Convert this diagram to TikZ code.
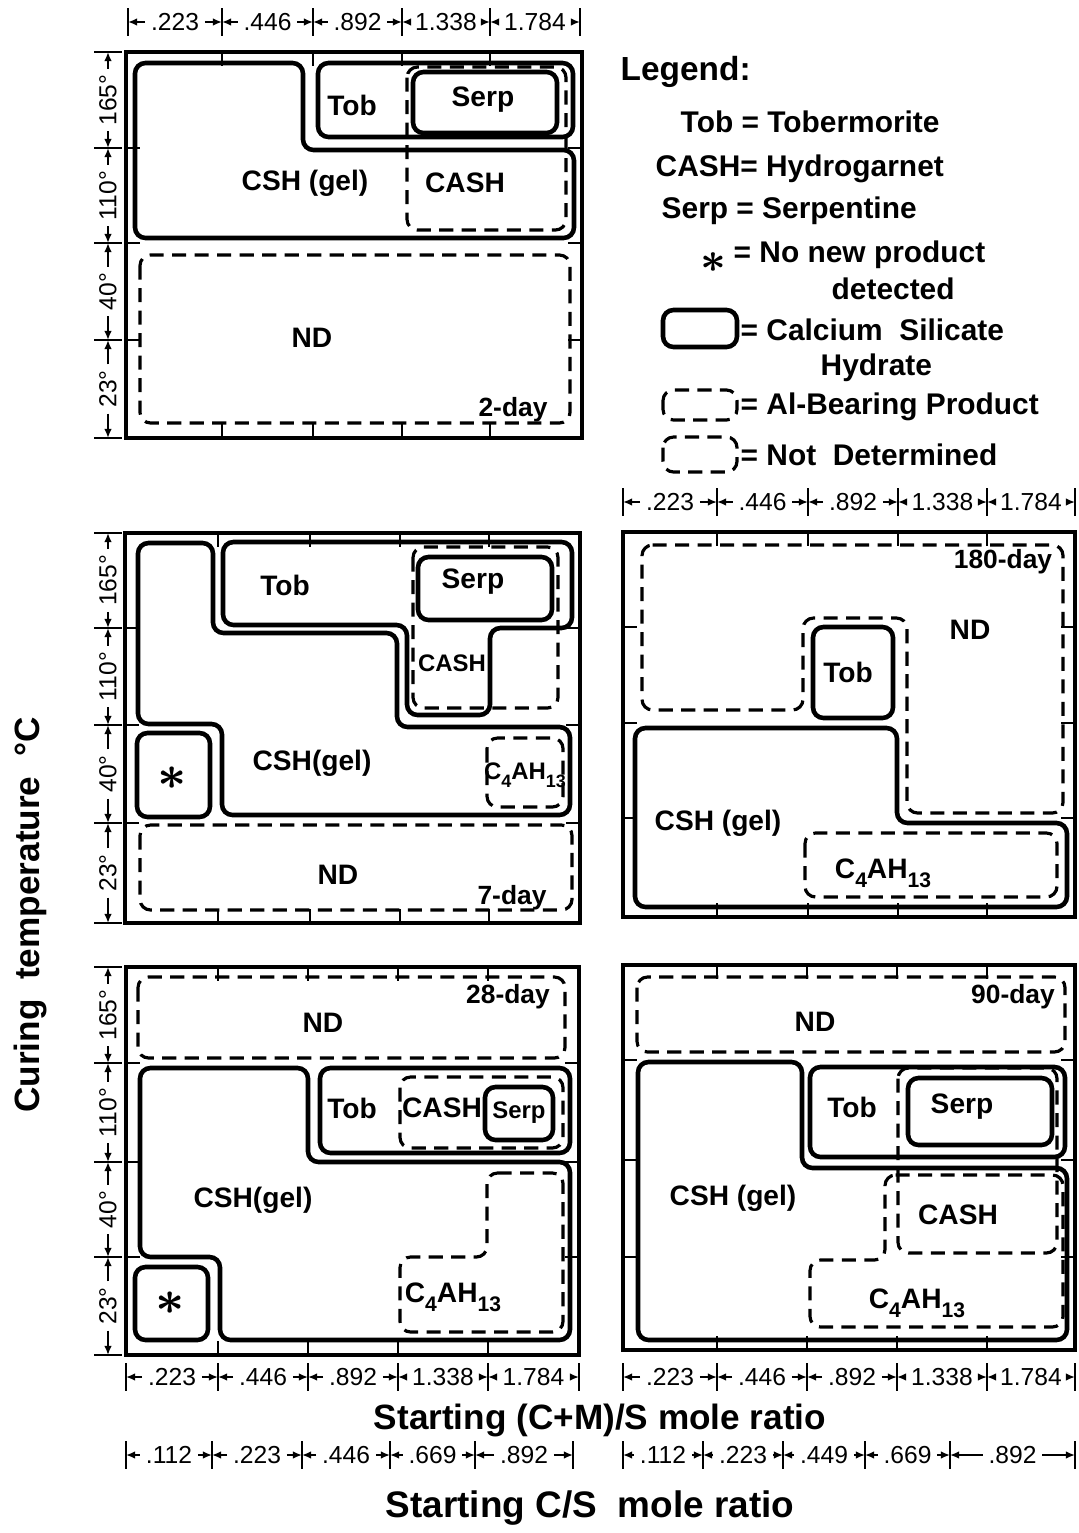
\documentclass[tikz,border=0pt]{standalone}
\usepackage{fontspec}
\setmainfont{Liberation Sans}
\usepackage{graphicx}
\usetikzlibrary{arrows.meta}

\newcommand{\labfont}{\fontsize{8}{9}\selectfont\bfseries}
\newcommand{\smlfont}{\fontsize{6.8}{8}\selectfont\bfseries}
\newcommand{\dimfont}{\fontsize{7}{8}\selectfont}
\newcommand{\legfont}{\fontsize{8.5}{10}\selectfont\bfseries}
\newcommand{\axfont}{\fontsize{10}{12}\selectfont\bfseries}
\newcommand{\lowr}[1]{\raisebox{-0.6ex}{\scalebox{0.75}{#1}}}
\newcommand{\starsym}{\raisebox{-0.45ex}{\scalebox{1.7}{\boldmath$\ast$}}}

% dimension segment along x: name, from, to, y, text
\newcommand{\hdim}[5]{%
  \coordinate (#1L) at (#2,#4);
  \coordinate (#1R) at (#3,#4);
  \node[dimlbl] (#1) at ({(#2+#3)/2},#4) {#5};
  \draw[dimarr] (#1) -- (#1L);
  \draw[dimarr] (#1) -- (#1R);
  \draw[tk] (#2,#4-14) -- (#2,#4+14);
  \draw[tk] (#3,#4-14) -- (#3,#4+14);
}
% dimension segment along y: name, from, to, x, text
\newcommand{\vdim}[5]{%
  \coordinate (#1T) at (#4,#2);
  \coordinate (#1B) at (#4,#3);
  \node[dimlbl, rotate=90] (#1) at (#4,{(#2+#3)/2}) {#5};
  \draw[dimarr] (#1) -- (#1T);
  \draw[dimarr] (#1) -- (#1B);
  \draw[tk] (#4-14,#2) -- (#4+14,#2);
  \draw[tk] (#4-14,#3) -- (#4+14,#3);
}
% frame of one panel with its grid ticks
\newcommand{\panelbox}[6]{%
  \draw[panel] (#1,#2) rectangle (#3,#4);
  \foreach \cx in {#5} {
    \draw[tk] (\cx,#2) -- (\cx,#2+14);
    \draw[tk] (\cx,#4) -- (\cx,#4-14);
  }
  \foreach \ry in {#6} {
    \draw[tk] (#1,\ry) -- (#1+14,\ry);
    \draw[tk] (#3,\ry) -- (#3-14,\ry);
  }
}

\begin{document}
\begin{tikzpicture}[x=0.01cm, y=-0.01cm,
    panel/.style={draw, line width=1.1pt},
    csh/.style={draw, line width=1.3pt, rounded corners=3pt},
    alb/.style={draw, line width=0.9pt, dash pattern=on 4pt off 2.4pt, rounded corners=3pt},
    tk/.style={line width=0.6pt},
    lab/.style={font=\labfont, inner sep=1pt},
    sml/.style={font=\smlfont, inner sep=0pt},
    day/.style={font=\fontsize{7.5}{9}\selectfont\bfseries, inner sep=1pt},
    dimlbl/.style={font=\dimfont, inner sep=1.5pt},
    dimarr/.style={-{Latex[length=2.6pt,width=2.2pt]}, line width=0.55pt},
    leg/.style={font=\legfont, anchor=west, inner sep=0pt}
  ]
  \useasboundingbox (0,0) rectangle (1078,1533);

  % ---- 2-day
  \panelbox{126}{52}{582}{438}{222,313,402,490}{148,243,340}
  \draw[csh] (135,63) -- (303,63) -- (303,150) -- (574,150) -- (574,238) -- (135,238) -- cycle;
  \draw[csh] (318,63) rectangle (573,137);
  \draw[alb] (407,67) rectangle (566,230);
  \draw[csh] (413,72) rectangle (557,133);
  \draw[alb] (140,255) rectangle (570,423);
  \node[lab] (aTob) at (352,105) {Tob};
  \node[lab] (aSerp) at (483,100) {Serp};
  \node[lab] (aCsh) at (305,183) {CSH (gel)};
  \node[lab] (aCash) at (465,183) {CASH};
  \node[lab] (aNd) at (312,338) {ND};
  \node[day] (aDay) at (513,410) {2-day};

  % ---- 7-day
  \panelbox{125}{533}{580}{923}{218,310,400,489}{628,725,823}
  \draw[csh] (138,543) -- (213,543) -- (213,633) -- (397,633) -- (397,727) -- (570,727)
    -- (570,815) -- (222,815) -- (222,724) -- (138,724) -- cycle;
  \draw[csh] (223,542) -- (572,542) -- (572,628) -- (490,628) -- (490,715) -- (407,715)
    -- (407,625) -- (223,625) -- cycle;
  \draw[alb] (413,547) rectangle (558,708);
  \draw[csh] (418,557) rectangle (552,620);
  \draw[alb] (487,738) rectangle (563,807);
  \draw[csh] (137,733) rectangle (210,817);
  \draw[alb] (140,825) rectangle (572,910);
  \node[lab] (bTob) at (285,585) {Tob};
  \node[lab] (bSerp) at (473,582) {Serp};
  \node[sml] (bCash) at (452,663) {CASH};
  \node[lab] (bCsh) at (312,763) {CSH(gel)};
  \node[sml] (bC4) at (525,775) {C\lowr{4}AH\lowr{13}};
  \node[lab] (bStar) at (172,778) {\starsym};
  \node[lab] (bNd) at (338,875) {ND};
  \node[day] (bDay) at (512,898) {7-day};

  % ---- 180-day
  \panelbox{623}{532}{1075}{917}{717,808,898,987}{627,723,818}
  \draw[alb] (642,545) -- (1063,545) -- (1063,813) -- (907,813) -- (907,618) -- (803,618)
    -- (803,710) -- (642,710) -- cycle;
  \draw[csh] (813,627) rectangle (893,718);
  \draw[csh] (635,728) -- (897,728) -- (897,823) -- (1067,823) -- (1067,907) -- (635,907) -- cycle;
  \draw[alb] (805,833) rectangle (1057,897);
  \node[day] (cDay) at (1003,562) {180-day};
  \node[lab] (cNd) at (970,630) {ND};
  \node[lab] (cTob) at (848,672) {Tob};
  \node[lab] (cCsh) at (718,823) {CSH (gel)};
  \node[lab] (cC4) at (883,873) {C\lowr{4}AH\lowr{13}};

  % ---- 28-day
  \panelbox{126}{967}{579}{1355}{218,308,398,488}{1063,1162,1257}
  \draw[alb] (138,977) rectangle (565,1058);
  \draw[csh] (140,1068) -- (308,1068) -- (308,1162) -- (570,1162) -- (570,1340) -- (220,1340)
    -- (220,1257) -- (140,1257) -- cycle;
  \draw[csh] (320,1068) rectangle (570,1153);
  \draw[alb] (400,1077) rectangle (563,1148);
  \draw[csh] (485,1087) rectangle (553,1140);
  \draw[alb] (487,1173) -- (563,1173) -- (563,1332) -- (400,1332) -- (400,1257) -- (487,1257) -- cycle;
  \draw[csh] (135,1267) rectangle (208,1340);
  \node[lab] (dNd) at (323,1023) {ND};
  \node[day] (dDay) at (508,997) {28-day};
  \node[lab] (dTob) at (352,1108) {Tob};
  \node[lab] (dCash) at (442,1108) {CASH};
  \node[sml] (dSerp) at (519,1113) {Serp};
  \node[lab] (dCsh) at (253,1200) {CSH(gel)};
  \node[lab] (dC4) at (453,1297) {C\lowr{4}AH\lowr{13}};
  \node[lab] (dStar) at (170,1303) {\starsym};

  % ---- 90-day
  \panelbox{623}{965}{1075}{1350}{717,807,897,987}{1060,1160,1257}
  \draw[alb] (637,977) rectangle (1065,1052);
  \draw[csh] (638,1062) -- (802,1062) -- (802,1168) -- (1067,1168) -- (1067,1340) -- (638,1340) -- cycle;
  \draw[csh] (810,1067) rectangle (1065,1157);
  \draw[alb] (898,1068) rectangle (1057,1253);
  \draw[csh] (908,1078) rectangle (1052,1145);
  \draw[alb] (885,1175) -- (1063,1175) -- (1063,1327) -- (810,1327) -- (810,1260) -- (885,1260) -- cycle;
  \node[lab] (eNd) at (815,1022) {ND};
  \node[day] (eDay) at (1013,997) {90-day};
  \node[lab] (eTob) at (852,1107) {Tob};
  \node[lab] (eSerp) at (962,1107) {Serp};
  \node[lab] (eCsh) at (733,1198) {CSH (gel)};
  \node[lab] (eCash) at (958,1215) {CASH};
  \node[lab] (eC4) at (917,1303) {C\lowr{4}AH\lowr{13}};

  % ---- ratio scales
  \hdim{ta}{128}{222}{22}{.223} \hdim{tb}{222}{313}{22}{.446} \hdim{tc}{313}{402}{22}{.892}
  \hdim{td}{402}{490}{22}{1.338} \hdim{te}{490}{580}{22}{1.784}
  \hdim{ua}{623}{717}{502}{.223} \hdim{ub}{717}{808}{502}{.446} \hdim{uc}{808}{898}{502}{.892}
  \hdim{ud}{898}{987}{502}{1.338} \hdim{ue}{987}{1075}{502}{1.784}
  \hdim{ba}{126}{218}{1377}{.223} \hdim{bb}{218}{308}{1377}{.446} \hdim{bc}{308}{398}{1377}{.892}
  \hdim{bd}{398}{488}{1377}{1.338} \hdim{be}{488}{579}{1377}{1.784}
  \hdim{ca}{623}{717}{1377}{.223} \hdim{cb}{717}{807}{1377}{.446} \hdim{cc}{807}{897}{1377}{.892}
  \hdim{cd}{897}{987}{1377}{1.338} \hdim{ce}{987}{1075}{1377}{1.784}
  \hdim{sa}{126}{212}{1455}{.112} \hdim{sb}{212}{302}{1455}{.223} \hdim{sc}{302}{390}{1455}{.446}
  \hdim{sd}{390}{475}{1455}{.669} \hdim{se}{475}{573}{1455}{.892}
  \hdim{ra}{623}{703}{1455}{.112} \hdim{rb}{703}{783}{1455}{.223} \hdim{rc}{783}{865}{1455}{.449}
  \hdim{rd}{865}{950}{1455}{.669} \hdim{re}{950}{1075}{1455}{.892}

  % ---- temperature scales
  \vdim{pa}{52}{148}{108}{165°} \vdim{pb}{148}{243}{108}{110°}
  \vdim{pc}{243}{340}{108}{40°} \vdim{pd}{340}{438}{108}{23°}
  \vdim{qa}{533}{628}{108}{165°} \vdim{qb}{628}{725}{108}{110°}
  \vdim{qc}{725}{823}{108}{40°} \vdim{qd}{823}{923}{108}{23°}
  \vdim{va}{967}{1063}{108}{165°} \vdim{vb}{1063}{1162}{108}{110°}
  \vdim{vc}{1162}{1257}{108}{40°} \vdim{vd}{1257}{1355}{108}{23°}

  % ---- axis titles
  \node[font=\axfont] (xTop) at (600,1420) {Starting (C+M)/S mole ratio};
  \node[font=\fontsize{10.5}{12}\selectfont\bfseries] (xBot) at (590,1508) {Starting C/S\ \ mole ratio};
  \node[font=\axfont, rotate=90] (yAx) at (30,915) {Curing\ \ temperature\ \ °C};

  % ---- legend
  \node[leg, font=\fontsize{9.5}{11}\selectfont\bfseries] (lgHead) at (620,72) {Legend:};
  \node[leg] (lgTob) at (680,122) {Tob = Tobermorite};
  \node[leg] (lgCash) at (655,169) {CASH= Hydrogarnet};
  \node[leg] (lgSerp) at (661,211) {Serp = Serpentine};
  \node[leg] (lgStarSym) at (700,263) {\scalebox{1.5}{\boldmath$\ast$}};
  \node[leg] (lgStar) at (733,255) {= No new product};
  \node[leg] (lgStar2) at (831,289) {detected};
  \draw[csh] (663,310) rectangle (737,347);
  \node[leg] (lgCsh) at (740,330) {= Calcium\ \ Silicate};
  \node[leg] (lgCsh2) at (820,368) {Hydrate};
  \draw[alb] (663,390) rectangle (737,420);
  \node[leg] (lgAl) at (740,407) {= Al-Bearing Product};
  \draw[alb] (663,437) rectangle (737,472);
  \node[leg] (lgNd) at (740,455) {= Not\ \ Determined};
\end{tikzpicture}
\end{document}
